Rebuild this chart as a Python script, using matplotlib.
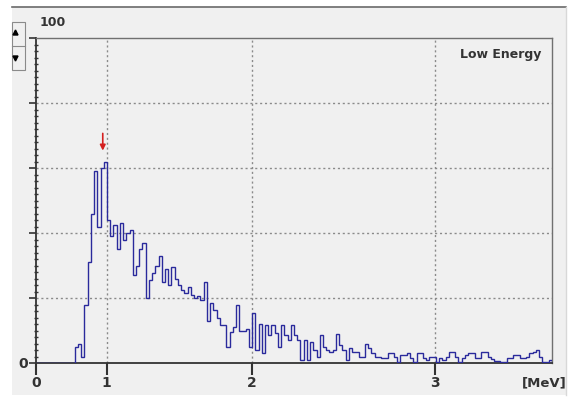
import numpy as np
import matplotlib
matplotlib.use("Agg")
import matplotlib.pyplot as plt
from matplotlib.patches import Rectangle, Polygon
from matplotlib.ticker import MultipleLocator

# counts per channel, low energy window (160 channels)
counts = [
    0, 0, 0, 0, 0, 0, 0, 0, 0, 0, 0, 0,
    5, 6, 2, 18, 31, 46, 59, 42, 60, 62, 44, 39,
    42.5, 35, 43, 38, 40, 41, 27, 30, 35, 37, 20, 25.5,
    27.6, 30, 33, 25, 29, 24, 29.5, 26, 24, 22.5, 21.5, 23.5,
    21, 20, 20.5, 19.4, 25, 13, 18.4, 16.3, 13.7, 11.7, 11.7, 5,
    9.6, 11.2, 18, 10, 10, 10.5, 4.8, 15.3, 4, 12, 3, 11.7,
    8.6, 11.7, 9.1, 5, 11.7, 8.6, 7.1, 11.7, 8.6, 7, 1, 7,
    1, 6.6, 4, 2, 8.6, 5, 4, 3.5, 4, 9, 5.5, 4,
    1, 4.5, 3.5, 3.5, 2, 2, 6, 4.5, 3, 2, 2, 1.4,
    1.4, 3, 3, 2, 0.4, 2.5, 2.5, 3, 1.4, 0.4, 3, 3,
    1.4, 0.9, 2, 2, 0.4, 1.4, 0.9, 2, 3.5, 3.5, 2, 0.4,
    1.4, 2.5, 3, 3, 1.4, 1.4, 3.5, 3.5, 2, 1.2, 0.7, 0.7,
    0.4, 0.4, 1.4, 1.4, 2.5, 2.5, 1.4, 1.4, 2, 3, 3.5, 4,
    2, 0.4, 0.2, 0.9,
]
n_channels = len(counts)
y_max = 100

# energy calibration points (MeV -> channel)
mev_ticks = [0, 1, 2, 3]
mev_channels = [0, 21.9, 67.0, 123.7]

peak_marker_ch = 20.7

edges = np.arange(n_channels + 1)

fig = plt.figure(figsize=(5.74, 4.0), dpi=100)
fig.patch.set_facecolor("white")

# window panel behind the plot
fig.add_artist(Rectangle((12 / 574, 5 / 400), 554 / 574, 388 / 400, transform=fig.transFigure,
                         facecolor="#f0f0f0", edgecolor="none", zorder=-10))
fig.add_artist(plt.Line2D([12 / 574, 566 / 574], [393 / 400, 393 / 400],
                          transform=fig.transFigure, color="#6a6a6a", lw=1.2, zorder=-9))
fig.add_artist(plt.Line2D([566 / 574, 566 / 574], [5 / 400, 393 / 400],
                          transform=fig.transFigure, color="#d8d8d8", lw=1.0, zorder=-9))

# scale spinner at top left
fig.add_artist(Rectangle((12 / 574, 330 / 400), 13 / 574, 48 / 400, transform=fig.transFigure,
                         facecolor="#f0f0f0", edgecolor="#8a8a8a", lw=0.8, zorder=-8))
fig.add_artist(plt.Line2D([12 / 574, 25 / 574], [354 / 400, 354 / 400],
                          transform=fig.transFigure, color="#8a8a8a", lw=0.8, zorder=-8))
fig.add_artist(Polygon([[13 / 574, 365 / 400], [18 / 574, 365 / 400], [15.5 / 574, 370 / 400]],
                       closed=True, transform=fig.transFigure, color="black", zorder=-7))
fig.add_artist(Polygon([[13 / 574, 344 / 400], [18 / 574, 344 / 400], [15.5 / 574, 339 / 400]],
                       closed=True, transform=fig.transFigure, color="black", zorder=-7))

ax = fig.add_axes([36 / 574, 37 / 400, 516 / 574, 325 / 400])
ax.set_zorder(2)
ax.set_facecolor("#f0f0f0")

ax.stairs(counts, edges, color="#2a2a9c", lw=1.0, zorder=3)

ax.set_xlim(0, n_channels)
ax.set_ylim(0, y_max)

ax.set_xticks(mev_channels)
ax.set_xticklabels([str(t) for t in mev_ticks])
ax.set_yticks([0, 20, 40, 60, 80, 100])
ax.set_yticklabels(["0", "", "", "", "", ""])
ax.yaxis.set_minor_locator(MultipleLocator(2))

ax.tick_params(axis="x", which="major", direction="out", length=8.5, width=1.5,
               color="#333333", labelsize=10, labelcolor="#333333", pad=1)
ax.tick_params(axis="y", which="major", direction="out", length=5, width=1.2,
               color="#333333", labelsize=10, labelcolor="#333333", pad=0.5)
ax.tick_params(axis="y", which="minor", direction="inout", length=3, width=1.0,
               color="#333333")
for lab in ax.get_xticklabels() + ax.get_yticklabels():
    lab.set_fontweight("bold")

for side in ["left", "bottom"]:
    ax.spines[side].set_color("#333333")
    ax.spines[side].set_linewidth(1.3)
for side in ["top", "right"]:
    ax.spines[side].set_color("#707070")
    ax.spines[side].set_linewidth(1.0)

# dotted grid
for ch in mev_channels[1:]:
    ax.axvline(ch, color="#8a8a8a", ls=(0, (1.5, 2)), lw=1.0, zorder=1)
for yv in [20, 40, 60, 80]:
    ax.axhline(yv, color="#8a8a8a", ls=(0, (1.5, 2)), lw=1.0, zorder=1)

# peak marker
ax.annotate("", xy=(peak_marker_ch, max(counts) + 2.5), xytext=(peak_marker_ch, max(counts) + 9.5),
            arrowprops=dict(arrowstyle="-|>", color="#d42020", lw=1.2, mutation_scale=8),
            zorder=4)

ax.text(0.98, 0.95, "Low Energy", transform=ax.transAxes, ha="right", va="center",
        fontsize=9, fontweight="bold", color="#333333")

fig.text(40 / 574, 1 - 22 / 400, "100", ha="left", va="center",
         fontsize=9, fontweight="bold", color="#333333")
fig.text(567 / 574, 1 - 383 / 400, "[MeV]", ha="right", va="center",
         fontsize=9.5, fontweight="bold", color="#333333")

fig.savefig("out.png", dpi=100, facecolor=fig.get_facecolor())
